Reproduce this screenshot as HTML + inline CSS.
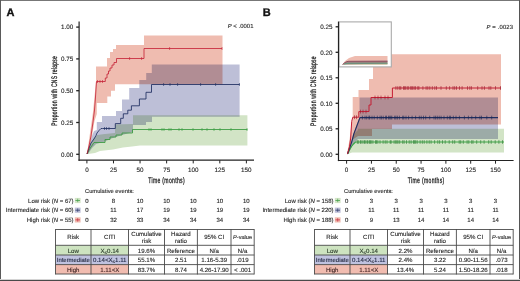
<!DOCTYPE html>
<html><head><meta charset="utf-8"><style>
html,body{margin:0;padding:0;background:#fff;width:520px;height:281px;overflow:hidden}
svg{display:block}
text{font-family:"Liberation Sans",sans-serif;text-rendering:geometricPrecision}
</style></head><body>
<svg width="520" height="281" viewBox="0 0 520 281">
<rect x="0" y="0" width="520" height="281" fill="#fff"/>

<g style="isolation:isolate"><polygon points="87.00,154.00 93.00,112.00 96.00,81.00 96.00,66.50 107.00,66.50 107.00,58.00 110.00,58.00 110.00,52.00 113.00,52.00 113.00,49.00 116.00,49.00 116.00,45.00 144.00,45.00 144.00,35.60 222.50,35.60 222.50,84.20 115.00,84.20 115.00,90.80 111.00,90.80 111.00,96.60 107.30,96.60 107.30,103.00 96.80,103.00 96.80,114.00 94.50,121.00 92.00,136.00 88.00,154.00" fill="#efbcb0" style="mix-blend-mode:multiply"/><polygon points="87.00,154.00 90.00,144.00 92.00,136.00 94.00,131.00 96.80,130.00 96.80,122.00 102.00,122.00 102.00,116.00 116.00,116.00 116.00,111.00 122.00,111.00 122.00,99.40 129.20,99.40 129.20,88.00 139.30,88.00 139.30,80.00 146.20,80.00 146.20,73.10 151.80,73.10 151.80,64.40 239.60,64.40 239.60,116.80 152.00,116.80 152.00,122.00 146.00,122.00 146.00,125.00 133.00,125.00 133.00,132.00 122.00,135.00 116.00,137.00 110.00,139.00 105.00,141.50 96.00,144.00 92.00,148.00 88.00,154.00" fill="#bdbfd7" style="mix-blend-mode:multiply"/><polygon points="87.00,154.00 90.00,145.00 93.00,139.00 97.00,135.00 105.00,134.00 115.00,133.00 115.00,124.50 133.00,124.00 133.00,115.20 247.40,115.20 247.40,145.40 140.00,145.40 132.00,146.50 123.00,147.50 113.00,149.50 100.00,151.00 95.00,153.00 88.00,154.00" fill="#d2e4c6" style="mix-blend-mode:multiply"/></g><polyline points="87.00,154.00 89.00,150.00 91.00,147.00 94.00,142.50 105.00,142.50 105.00,139.50 110.00,139.50 110.00,137.00 116.00,137.00 116.00,135.00 122.00,135.00 122.00,133.00 132.50,133.00 132.50,129.50 247.40,129.50" fill="none" stroke="#379a3e" stroke-width="0.85" stroke-linejoin="miter" stroke-miterlimit="2" /><polyline points="87.00,154.00 89.00,148.00 91.00,143.00 94.00,139.00 96.00,135.50 97.00,133.00 99.00,130.50 101.00,128.50 102.50,128.50 115.30,128.50 115.30,123.60 120.70,123.60 120.70,118.30 123.30,118.30 123.30,113.80 127.80,113.80 127.80,110.20 131.40,110.20 131.40,105.80 139.40,105.80 139.40,99.00 146.00,99.00 146.00,92.30 151.50,92.30 151.50,84.50 239.60,84.50" fill="none" stroke="#1e2d60" stroke-width="0.85" stroke-linejoin="miter" stroke-miterlimit="2" /><polyline points="87.00,154.00 89.00,146.00 91.00,136.00 93.00,122.00 94.50,110.00 95.30,100.00 96.50,81.50 105.30,81.50 105.30,78.00 107.00,78.00 107.00,74.00 108.50,74.00 108.50,71.00 110.00,71.00 110.00,68.00 112.00,68.00 112.00,65.00 114.00,65.00 114.00,62.50 116.50,62.50 116.50,58.50 144.00,58.50 144.00,48.50 222.00,48.50" fill="none" stroke="#c41e34" stroke-width="0.8" stroke-linejoin="miter" stroke-miterlimit="2" /><line x1="149" y1="128.0" x2="149" y2="131.0" stroke="#379a3e" stroke-width="0.6"/><line x1="151" y1="128.0" x2="151" y2="131.0" stroke="#379a3e" stroke-width="0.6"/><line x1="162" y1="128.0" x2="162" y2="131.0" stroke="#379a3e" stroke-width="0.6"/><line x1="164" y1="128.0" x2="164" y2="131.0" stroke="#379a3e" stroke-width="0.6"/><line x1="169" y1="128.0" x2="169" y2="131.0" stroke="#379a3e" stroke-width="0.6"/><line x1="171" y1="128.0" x2="171" y2="131.0" stroke="#379a3e" stroke-width="0.6"/><line x1="179" y1="128.0" x2="179" y2="131.0" stroke="#379a3e" stroke-width="0.6"/><line x1="182" y1="128.0" x2="182" y2="131.0" stroke="#379a3e" stroke-width="0.6"/><line x1="193" y1="128.0" x2="193" y2="131.0" stroke="#379a3e" stroke-width="0.6"/><line x1="202" y1="128.0" x2="202" y2="131.0" stroke="#379a3e" stroke-width="0.6"/><line x1="207" y1="128.0" x2="207" y2="131.0" stroke="#379a3e" stroke-width="0.6"/><line x1="214" y1="128.0" x2="214" y2="131.0" stroke="#379a3e" stroke-width="0.6"/><line x1="220" y1="128.0" x2="220" y2="131.0" stroke="#379a3e" stroke-width="0.6"/><line x1="231" y1="128.0" x2="231" y2="131.0" stroke="#379a3e" stroke-width="0.6"/><line x1="247" y1="128.0" x2="247" y2="131.0" stroke="#379a3e" stroke-width="0.6"/><line x1="163.6" y1="83.0" x2="163.6" y2="86.0" stroke="#1e2d60" stroke-width="0.6"/><line x1="170" y1="83.0" x2="170" y2="86.0" stroke="#1e2d60" stroke-width="0.6"/><line x1="177.6" y1="83.0" x2="177.6" y2="86.0" stroke="#1e2d60" stroke-width="0.6"/><line x1="200.6" y1="83.0" x2="200.6" y2="86.0" stroke="#1e2d60" stroke-width="0.6"/><line x1="215.6" y1="83.0" x2="215.6" y2="86.0" stroke="#1e2d60" stroke-width="0.6"/><line x1="239.4" y1="83.0" x2="239.4" y2="86.0" stroke="#1e2d60" stroke-width="0.6"/><line x1="104.5" y1="127.0" x2="104.5" y2="130.0" stroke="#1e2d60" stroke-width="0.6"/><line x1="106.5" y1="127.0" x2="106.5" y2="130.0" stroke="#1e2d60" stroke-width="0.6"/><line x1="109" y1="127.0" x2="109" y2="130.0" stroke="#1e2d60" stroke-width="0.6"/><line x1="97.5" y1="80.0" x2="97.5" y2="83.0" stroke="#c41e34" stroke-width="0.6"/><line x1="100" y1="80.0" x2="100" y2="83.0" stroke="#c41e34" stroke-width="0.6"/><line x1="102.5" y1="80.0" x2="102.5" y2="83.0" stroke="#c41e34" stroke-width="0.6"/><line x1="129.6" y1="57.0" x2="129.6" y2="60.0" stroke="#c41e34" stroke-width="0.6"/><line x1="141.6" y1="57.0" x2="141.6" y2="60.0" stroke="#c41e34" stroke-width="0.6"/><line x1="169.6" y1="47.0" x2="169.6" y2="50.0" stroke="#c41e34" stroke-width="0.6"/><line x1="222" y1="47.0" x2="222" y2="50.0" stroke="#c41e34" stroke-width="0.6"/><line x1="79.1" y1="21.5" x2="79.1" y2="160.79999999999998" stroke="#222" stroke-width="1.2"/><line x1="78.5" y1="160.2" x2="254" y2="160.2" stroke="#222" stroke-width="1.2"/><line x1="76.19999999999999" y1="154.30" x2="79.1" y2="154.30" stroke="#222" stroke-width="1.3"/><text x="73.20" y="156.50" font-size="6.3" text-anchor="end" fill="#1a1a1a" stroke="#333" stroke-width="0.12" >0.00</text><line x1="76.19999999999999" y1="122.50" x2="79.1" y2="122.50" stroke="#222" stroke-width="1.3"/><text x="73.20" y="124.70" font-size="6.3" text-anchor="end" fill="#1a1a1a" stroke="#333" stroke-width="0.12" >0.25</text><line x1="76.19999999999999" y1="90.70" x2="79.1" y2="90.70" stroke="#222" stroke-width="1.3"/><text x="73.20" y="92.90" font-size="6.3" text-anchor="end" fill="#1a1a1a" stroke="#333" stroke-width="0.12" >0.50</text><line x1="76.19999999999999" y1="58.90" x2="79.1" y2="58.90" stroke="#222" stroke-width="1.3"/><text x="73.20" y="61.10" font-size="6.3" text-anchor="end" fill="#1a1a1a" stroke="#333" stroke-width="0.12" >0.75</text><line x1="76.19999999999999" y1="27.10" x2="79.1" y2="27.10" stroke="#222" stroke-width="1.3"/><text x="73.20" y="29.30" font-size="6.3" text-anchor="end" fill="#1a1a1a" stroke="#333" stroke-width="0.12" >1.00</text><line x1="86.90" y1="160.2" x2="86.90" y2="163.39999999999998" stroke="#222" stroke-width="1"/><text x="86.90" y="172.10" font-size="6.3" text-anchor="middle" fill="#1a1a1a" stroke="#333" stroke-width="0.12" >0</text><line x1="113.48" y1="160.2" x2="113.48" y2="163.39999999999998" stroke="#222" stroke-width="1"/><text x="113.48" y="172.10" font-size="6.3" text-anchor="middle" fill="#1a1a1a" stroke="#333" stroke-width="0.12" >25</text><line x1="140.06" y1="160.2" x2="140.06" y2="163.39999999999998" stroke="#222" stroke-width="1"/><text x="140.06" y="172.10" font-size="6.3" text-anchor="middle" fill="#1a1a1a" stroke="#333" stroke-width="0.12" >50</text><line x1="166.64" y1="160.2" x2="166.64" y2="163.39999999999998" stroke="#222" stroke-width="1"/><text x="166.64" y="172.10" font-size="6.3" text-anchor="middle" fill="#1a1a1a" stroke="#333" stroke-width="0.12" >75</text><line x1="193.22" y1="160.2" x2="193.22" y2="163.39999999999998" stroke="#222" stroke-width="1"/><text x="193.22" y="172.10" font-size="6.3" text-anchor="middle" fill="#1a1a1a" stroke="#333" stroke-width="0.12" >100</text><line x1="219.80" y1="160.2" x2="219.80" y2="163.39999999999998" stroke="#222" stroke-width="1"/><text x="219.80" y="172.10" font-size="6.3" text-anchor="middle" fill="#1a1a1a" stroke="#333" stroke-width="0.12" >125</text><line x1="246.38" y1="160.2" x2="246.38" y2="163.39999999999998" stroke="#222" stroke-width="1"/><text x="246.38" y="172.10" font-size="6.3" text-anchor="middle" fill="#1a1a1a" stroke="#333" stroke-width="0.12" >150</text><text transform="translate(166.6,182.6) scale(0.63,1)" font-size="8" letter-spacing="0.55" text-anchor="middle" fill="#1a1a1a" stroke="#222" stroke-width="0.3">Time (months)</text><text transform="translate(56.9,90.9) rotate(-90) scale(0.62,1)" font-size="8" letter-spacing="0.43" text-anchor="middle" fill="#1a1a1a" stroke="#222" stroke-width="0.3">Proportion with CNS relapse</text><text x="253.5" y="28.4" font-size="5.9" letter-spacing="0.05" text-anchor="end" fill="#1a1a1a" stroke="#333" stroke-width="0.12"><tspan font-style="italic">P</tspan> &lt; .0001</text><text x="6.5" y="16" font-size="11" font-weight="bold" fill="#111" stroke="#111" stroke-width="0.35">A</text>
<text x="85.00" y="193.20" font-size="5.75" text-anchor="start" fill="#1a1a1a" stroke="#333" stroke-width="0.12" >Cumulative events:</text><text x="73.60" y="202.70" font-size="6.0" text-anchor="end" fill="#1a1a1a" stroke="#333" stroke-width="0.12" >Low risk (<tspan font-style="italic">N</tspan> = 67)</text><rect x="74.8" y="197.89999999999998" width="5.8" height="5.2" fill="#d2e4c6"/><line x1="75.39999999999999" y1="200.5" x2="80.0" y2="200.5" stroke="#379a3e" stroke-width="0.7"/><line x1="77.7" y1="198.7" x2="77.7" y2="202.2" stroke="#379a3e" stroke-width="0.6"/><text x="86.90" y="202.70" font-size="6.0" text-anchor="middle" fill="#1a1a1a" stroke="#333" stroke-width="0.12" >0</text><text x="113.48" y="202.70" font-size="6.0" text-anchor="middle" fill="#1a1a1a" stroke="#333" stroke-width="0.12" >8</text><text x="140.06" y="202.70" font-size="6.0" text-anchor="middle" fill="#1a1a1a" stroke="#333" stroke-width="0.12" >10</text><text x="166.64" y="202.70" font-size="6.0" text-anchor="middle" fill="#1a1a1a" stroke="#333" stroke-width="0.12" >10</text><text x="193.22" y="202.70" font-size="6.0" text-anchor="middle" fill="#1a1a1a" stroke="#333" stroke-width="0.12" >10</text><text x="219.80" y="202.70" font-size="6.0" text-anchor="middle" fill="#1a1a1a" stroke="#333" stroke-width="0.12" >10</text><text x="246.38" y="202.70" font-size="6.0" text-anchor="middle" fill="#1a1a1a" stroke="#333" stroke-width="0.12" >10</text><text x="73.60" y="212.40" font-size="6.0" text-anchor="end" fill="#1a1a1a" stroke="#333" stroke-width="0.12" >Intermediate risk (<tspan font-style="italic">N</tspan> = 60)</text><rect x="74.8" y="207.6" width="5.8" height="5.2" fill="#bdbfd7"/><line x1="75.39999999999999" y1="210.20000000000002" x2="80.0" y2="210.20000000000002" stroke="#1e2d60" stroke-width="0.7"/><line x1="77.7" y1="208.4" x2="77.7" y2="211.9" stroke="#1e2d60" stroke-width="0.6"/><text x="86.90" y="212.40" font-size="6.0" text-anchor="middle" fill="#1a1a1a" stroke="#333" stroke-width="0.12" >0</text><text x="113.48" y="212.40" font-size="6.0" text-anchor="middle" fill="#1a1a1a" stroke="#333" stroke-width="0.12" >11</text><text x="140.06" y="212.40" font-size="6.0" text-anchor="middle" fill="#1a1a1a" stroke="#333" stroke-width="0.12" >17</text><text x="166.64" y="212.40" font-size="6.0" text-anchor="middle" fill="#1a1a1a" stroke="#333" stroke-width="0.12" >19</text><text x="193.22" y="212.40" font-size="6.0" text-anchor="middle" fill="#1a1a1a" stroke="#333" stroke-width="0.12" >19</text><text x="219.80" y="212.40" font-size="6.0" text-anchor="middle" fill="#1a1a1a" stroke="#333" stroke-width="0.12" >19</text><text x="246.38" y="212.40" font-size="6.0" text-anchor="middle" fill="#1a1a1a" stroke="#333" stroke-width="0.12" >19</text><text x="73.60" y="222.10" font-size="6.0" text-anchor="end" fill="#1a1a1a" stroke="#333" stroke-width="0.12" >High risk (<tspan font-style="italic">N</tspan> = 55)</text><rect x="74.8" y="217.29999999999998" width="5.8" height="5.2" fill="#efbcb0"/><line x1="75.39999999999999" y1="219.9" x2="80.0" y2="219.9" stroke="#c41e34" stroke-width="0.7"/><line x1="77.7" y1="218.1" x2="77.7" y2="221.6" stroke="#c41e34" stroke-width="0.6"/><text x="86.90" y="222.10" font-size="6.0" text-anchor="middle" fill="#1a1a1a" stroke="#333" stroke-width="0.12" >0</text><text x="113.48" y="222.10" font-size="6.0" text-anchor="middle" fill="#1a1a1a" stroke="#333" stroke-width="0.12" >32</text><text x="140.06" y="222.10" font-size="6.0" text-anchor="middle" fill="#1a1a1a" stroke="#333" stroke-width="0.12" >33</text><text x="166.64" y="222.10" font-size="6.0" text-anchor="middle" fill="#1a1a1a" stroke="#333" stroke-width="0.12" >34</text><text x="193.22" y="222.10" font-size="6.0" text-anchor="middle" fill="#1a1a1a" stroke="#333" stroke-width="0.12" >34</text><text x="219.80" y="222.10" font-size="6.0" text-anchor="middle" fill="#1a1a1a" stroke="#333" stroke-width="0.12" >34</text><text x="246.38" y="222.10" font-size="6.0" text-anchor="middle" fill="#1a1a1a" stroke="#333" stroke-width="0.12" >34</text><rect x="55.5" y="245.3" width="35.50" height="9.70" fill="#cde3c0"/><rect x="91" y="245.3" width="37.50" height="9.70" fill="#cde3c0"/><rect x="55.5" y="255" width="35.50" height="9.60" fill="#bfc2df"/><rect x="91" y="255" width="37.50" height="9.60" fill="#bfc2df"/><rect x="55.5" y="264.6" width="35.50" height="9.40" fill="#f1bcb0"/><rect x="91" y="264.6" width="37.50" height="9.40" fill="#f1bcb0"/><line x1="55.5" y1="229.05" x2="55.5" y2="274.45" stroke="#4a4a4a" stroke-width="0.9"/><line x1="91" y1="229.05" x2="91" y2="274.45" stroke="#4a4a4a" stroke-width="0.9"/><line x1="128.5" y1="229.05" x2="128.5" y2="274.45" stroke="#4a4a4a" stroke-width="0.9"/><line x1="164.5" y1="229.05" x2="164.5" y2="274.45" stroke="#4a4a4a" stroke-width="0.9"/><line x1="197.4" y1="229.05" x2="197.4" y2="274.45" stroke="#4a4a4a" stroke-width="0.9"/><line x1="231" y1="229.05" x2="231" y2="274.45" stroke="#4a4a4a" stroke-width="0.9"/><line x1="254.2" y1="229.05" x2="254.2" y2="274.45" stroke="#4a4a4a" stroke-width="0.9"/><line x1="55.5" y1="229.5" x2="254.2" y2="229.5" stroke="#4a4a4a" stroke-width="0.9"/><line x1="55.5" y1="245.3" x2="254.2" y2="245.3" stroke="#4a4a4a" stroke-width="0.9"/><line x1="55.5" y1="255" x2="254.2" y2="255" stroke="#4a4a4a" stroke-width="0.9"/><line x1="55.5" y1="264.6" x2="254.2" y2="264.6" stroke="#4a4a4a" stroke-width="0.9"/><line x1="55.5" y1="274" x2="254.2" y2="274" stroke="#4a4a4a" stroke-width="0.9"/><text x="73.25" y="239.40" font-size="6.1" text-anchor="middle" fill="#1a1a1a" stroke="#333" stroke-width="0.12" >Risk</text><text x="109.75" y="239.40" font-size="6.1" text-anchor="middle" fill="#1a1a1a" stroke="#333" stroke-width="0.12" >CITI</text><text x="146.50" y="235.60" font-size="6.1" text-anchor="middle" fill="#1a1a1a" stroke="#333" stroke-width="0.12" >Cumulative</text><text x="146.50" y="242.60" font-size="6.1" text-anchor="middle" fill="#1a1a1a" stroke="#333" stroke-width="0.12" >risk</text><text x="180.95" y="235.60" font-size="6.1" text-anchor="middle" fill="#1a1a1a" stroke="#333" stroke-width="0.12" >Hazard</text><text x="180.95" y="242.60" font-size="6.1" text-anchor="middle" fill="#1a1a1a" stroke="#333" stroke-width="0.12" >ratio</text><text x="214.20" y="239.40" font-size="6.1" text-anchor="middle" fill="#1a1a1a" stroke="#333" stroke-width="0.12" >95% CI</text><text x="242.60" y="239.40" font-size="5.6" text-anchor="middle" fill="#1a1a1a" stroke="#333" stroke-width="0.12" ><tspan font-style="italic">P</tspan>-value</text><text x="73.25" y="252.50" font-size="6.1" text-anchor="middle" fill="#1f3a1f" stroke="#333" stroke-width="0.12" >Low</text><text x="109.75" y="252.50" font-size="6.1" text-anchor="middle" fill="#1f3a1f" stroke="#333" stroke-width="0.12" >X<tspan font-size="4.6" dy="1.0">≤</tspan><tspan dy="-1.0">0.14</tspan></text><text x="146.50" y="252.50" font-size="6.1" text-anchor="middle" fill="#1a1a1a" stroke="#333" stroke-width="0.12" >19.6%</text><text x="180.95" y="252.50" font-size="6.1" text-anchor="middle" fill="#1a1a1a" stroke="#333" stroke-width="0.12" >Reference</text><text x="214.20" y="252.50" font-size="6.1" text-anchor="middle" fill="#1a1a1a" stroke="#333" stroke-width="0.12" >N/a</text><text x="242.60" y="252.50" font-size="6.1" text-anchor="middle" fill="#1a1a1a" stroke="#333" stroke-width="0.12" >N/a</text><text x="73.25" y="262.10" font-size="6.1" text-anchor="middle" fill="#1a2248" stroke="#333" stroke-width="0.12" ><tspan font-size="5.95">Intermediate</tspan></text><text x="109.75" y="262.10" font-size="6.1" text-anchor="middle" fill="#1a2248" stroke="#333" stroke-width="0.12" >0.14&lt;X<tspan font-size="4.6" dy="1.0">≤</tspan><tspan dy="-1.0">1.11</tspan></text><text x="146.50" y="262.10" font-size="6.1" text-anchor="middle" fill="#1a1a1a" stroke="#333" stroke-width="0.12" >55.1%</text><text x="180.95" y="262.10" font-size="6.1" text-anchor="middle" fill="#1a1a1a" stroke="#333" stroke-width="0.12" >2.51</text><text x="214.20" y="262.10" font-size="6.1" text-anchor="middle" fill="#1a1a1a" stroke="#333" stroke-width="0.12" >1.16-5.39</text><text x="242.60" y="262.10" font-size="6.1" text-anchor="middle" fill="#1a1a1a" stroke="#333" stroke-width="0.12" >.019</text><text x="73.25" y="271.70" font-size="6.1" text-anchor="middle" fill="#4a1e1e" stroke="#333" stroke-width="0.12" >High</text><text x="109.75" y="271.70" font-size="6.1" text-anchor="middle" fill="#4a1e1e" stroke="#333" stroke-width="0.12" >1.11&lt;X</text><text x="146.50" y="271.70" font-size="6.1" text-anchor="middle" fill="#1a1a1a" stroke="#333" stroke-width="0.12" >83.7%</text><text x="180.95" y="271.70" font-size="6.1" text-anchor="middle" fill="#1a1a1a" stroke="#333" stroke-width="0.12" >8.74</text><text x="214.20" y="271.70" font-size="6.1" text-anchor="middle" fill="#1a1a1a" stroke="#333" stroke-width="0.12" >4.26-17.90</text><text x="242.60" y="271.70" font-size="6.1" text-anchor="middle" fill="#1a1a1a" stroke="#333" stroke-width="0.12" >&lt; .001</text>
<g style="isolation:isolate"><polygon points="347.00,154.00 349.50,140.00 351.50,124.00 352.70,117.00 352.70,97.00 358.50,97.00 358.50,90.00 369.00,90.00 369.00,79.00 373.00,79.00 373.00,54.20 501.00,54.20 501.00,124.60 392.00,124.60 392.00,129.00 372.00,129.00 372.00,136.00 358.00,136.00 352.00,140.00 348.00,154.00" fill="#efbcb0" style="mix-blend-mode:multiply"/><polygon points="347.00,154.00 353.00,135.00 357.00,124.00 359.50,117.00 359.50,97.60 498.00,97.60 498.00,139.00 358.00,139.00 352.00,146.00 348.00,154.00" fill="#bdbfd7" style="mix-blend-mode:multiply"/><polygon points="347.00,154.00 350.00,145.00 354.00,134.00 358.00,130.00 358.00,128.70 504.00,128.70 504.00,152.60 352.00,152.60 348.00,154.00" fill="#d2e4c6" style="mix-blend-mode:multiply"/></g><polyline points="347.50,154.00 349.50,150.00 351.50,146.50 353.50,144.00 355.50,142.00 504.00,142.00" fill="none" stroke="#3aa845" stroke-width="1.2" stroke-linejoin="miter" stroke-miterlimit="2" /><polyline points="347.50,154.00 351.80,141.80 353.80,134.00 360.00,117.60 498.00,117.60" fill="none" stroke="#1e2d60" stroke-width="1.1" stroke-linejoin="miter" stroke-miterlimit="2" /><polyline points="347.50,154.00 349.50,146.50 350.70,138.00 351.70,121.30 352.80,117.20 358.80,117.20 358.80,111.60 369.00,111.50 369.00,105.00 371.00,105.00 371.00,97.50 392.40,97.50 392.40,88.00 501.00,88.00" fill="none" stroke="#c41e34" stroke-width="1.0" stroke-linejoin="miter" stroke-miterlimit="2" /><line x1="357.3" y1="140.1" x2="357.3" y2="143.9" stroke="#2a7a30" stroke-width="0.6"/><line x1="358.3" y1="140.1" x2="358.3" y2="143.9" stroke="#2a7a30" stroke-width="0.6"/><line x1="360.3" y1="140.1" x2="360.3" y2="143.9" stroke="#2a7a30" stroke-width="0.6"/><line x1="361.1" y1="140.1" x2="361.1" y2="143.9" stroke="#2a7a30" stroke-width="0.6"/><line x1="362.9" y1="140.1" x2="362.9" y2="143.9" stroke="#2a7a30" stroke-width="0.6"/><line x1="364.4" y1="140.1" x2="364.4" y2="143.9" stroke="#2a7a30" stroke-width="0.6"/><line x1="365.2" y1="140.1" x2="365.2" y2="143.9" stroke="#2a7a30" stroke-width="0.6"/><line x1="367.0" y1="140.1" x2="367.0" y2="143.9" stroke="#2a7a30" stroke-width="0.6"/><line x1="367.8" y1="140.1" x2="367.8" y2="143.9" stroke="#2a7a30" stroke-width="0.6"/><line x1="369.4" y1="140.1" x2="369.4" y2="143.9" stroke="#2a7a30" stroke-width="0.6"/><line x1="370.3" y1="140.1" x2="370.3" y2="143.9" stroke="#2a7a30" stroke-width="0.6"/><line x1="371.2" y1="140.1" x2="371.2" y2="143.9" stroke="#2a7a30" stroke-width="0.6"/><line x1="372.9" y1="140.1" x2="372.9" y2="143.9" stroke="#2a7a30" stroke-width="0.6"/><line x1="375.5" y1="140.1" x2="375.5" y2="143.9" stroke="#2a7a30" stroke-width="0.6"/><line x1="376.5" y1="140.1" x2="376.5" y2="143.9" stroke="#2a7a30" stroke-width="0.6"/><line x1="377.8" y1="140.1" x2="377.8" y2="143.9" stroke="#2a7a30" stroke-width="0.6"/><line x1="380.0" y1="140.1" x2="380.0" y2="143.9" stroke="#2a7a30" stroke-width="0.6"/><line x1="383.1" y1="140.1" x2="383.1" y2="143.9" stroke="#2a7a30" stroke-width="0.6"/><line x1="385.2" y1="140.1" x2="385.2" y2="143.9" stroke="#2a7a30" stroke-width="0.6"/><line x1="387.0" y1="140.1" x2="387.0" y2="143.9" stroke="#2a7a30" stroke-width="0.6"/><line x1="390.2" y1="140.1" x2="390.2" y2="143.9" stroke="#2a7a30" stroke-width="0.6"/><line x1="391.1" y1="140.1" x2="391.1" y2="143.9" stroke="#2a7a30" stroke-width="0.6"/><line x1="394.1" y1="140.1" x2="394.1" y2="143.9" stroke="#2a7a30" stroke-width="0.6"/><line x1="395.7" y1="140.1" x2="395.7" y2="143.9" stroke="#2a7a30" stroke-width="0.6"/><line x1="396.9" y1="140.1" x2="396.9" y2="143.9" stroke="#2a7a30" stroke-width="0.6"/><line x1="398.0" y1="140.1" x2="398.0" y2="143.9" stroke="#2a7a30" stroke-width="0.6"/><line x1="399.7" y1="140.1" x2="399.7" y2="143.9" stroke="#2a7a30" stroke-width="0.6"/><line x1="402.7" y1="140.1" x2="402.7" y2="143.9" stroke="#2a7a30" stroke-width="0.6"/><line x1="404.1" y1="140.1" x2="404.1" y2="143.9" stroke="#2a7a30" stroke-width="0.6"/><line x1="406.5" y1="140.1" x2="406.5" y2="143.9" stroke="#2a7a30" stroke-width="0.6"/><line x1="409.2" y1="140.1" x2="409.2" y2="143.9" stroke="#2a7a30" stroke-width="0.6"/><line x1="411.1" y1="140.1" x2="411.1" y2="143.9" stroke="#2a7a30" stroke-width="0.6"/><line x1="413.5" y1="140.1" x2="413.5" y2="143.9" stroke="#2a7a30" stroke-width="0.6"/><line x1="414.6" y1="140.1" x2="414.6" y2="143.9" stroke="#2a7a30" stroke-width="0.6"/><line x1="415.7" y1="140.1" x2="415.7" y2="143.9" stroke="#2a7a30" stroke-width="0.6"/><line x1="417.2" y1="140.1" x2="417.2" y2="143.9" stroke="#2a7a30" stroke-width="0.6"/><line x1="420.1" y1="140.1" x2="420.1" y2="143.9" stroke="#2a7a30" stroke-width="0.6"/><line x1="422.3" y1="140.1" x2="422.3" y2="143.9" stroke="#2a7a30" stroke-width="0.6"/><line x1="424.2" y1="140.1" x2="424.2" y2="143.9" stroke="#2a7a30" stroke-width="0.6"/><line x1="426.9" y1="140.1" x2="426.9" y2="143.9" stroke="#2a7a30" stroke-width="0.6"/><line x1="429.2" y1="140.1" x2="429.2" y2="143.9" stroke="#2a7a30" stroke-width="0.6"/><line x1="431.1" y1="140.1" x2="431.1" y2="143.9" stroke="#2a7a30" stroke-width="0.6"/><line x1="434.6" y1="140.1" x2="434.6" y2="143.9" stroke="#2a7a30" stroke-width="0.6"/><line x1="437.8" y1="140.1" x2="437.8" y2="143.9" stroke="#2a7a30" stroke-width="0.6"/><line x1="439.6" y1="140.1" x2="439.6" y2="143.9" stroke="#2a7a30" stroke-width="0.6"/><line x1="442.5" y1="140.1" x2="442.5" y2="143.9" stroke="#2a7a30" stroke-width="0.6"/><line x1="445.2" y1="140.1" x2="445.2" y2="143.9" stroke="#2a7a30" stroke-width="0.6"/><line x1="449.2" y1="140.1" x2="449.2" y2="143.9" stroke="#2a7a30" stroke-width="0.6"/><line x1="452.7" y1="140.1" x2="452.7" y2="143.9" stroke="#2a7a30" stroke-width="0.6"/><line x1="454.7" y1="140.1" x2="454.7" y2="143.9" stroke="#2a7a30" stroke-width="0.6"/><line x1="459.2" y1="140.1" x2="459.2" y2="143.9" stroke="#2a7a30" stroke-width="0.6"/><line x1="460.7" y1="140.1" x2="460.7" y2="143.9" stroke="#2a7a30" stroke-width="0.6"/><line x1="463.3" y1="140.1" x2="463.3" y2="143.9" stroke="#2a7a30" stroke-width="0.6"/><line x1="467.1" y1="140.1" x2="467.1" y2="143.9" stroke="#2a7a30" stroke-width="0.6"/><line x1="468.8" y1="140.1" x2="468.8" y2="143.9" stroke="#2a7a30" stroke-width="0.6"/><line x1="471.7" y1="140.1" x2="471.7" y2="143.9" stroke="#2a7a30" stroke-width="0.6"/><line x1="473.0" y1="140.1" x2="473.0" y2="143.9" stroke="#2a7a30" stroke-width="0.6"/><line x1="476.7" y1="140.1" x2="476.7" y2="143.9" stroke="#2a7a30" stroke-width="0.6"/><line x1="480.7" y1="140.1" x2="480.7" y2="143.9" stroke="#2a7a30" stroke-width="0.6"/><line x1="484.1" y1="140.1" x2="484.1" y2="143.9" stroke="#2a7a30" stroke-width="0.6"/><line x1="488.7" y1="140.1" x2="488.7" y2="143.9" stroke="#2a7a30" stroke-width="0.6"/><line x1="491.2" y1="140.1" x2="491.2" y2="143.9" stroke="#2a7a30" stroke-width="0.6"/><line x1="495.2" y1="140.1" x2="495.2" y2="143.9" stroke="#2a7a30" stroke-width="0.6"/><line x1="498.9" y1="140.1" x2="498.9" y2="143.9" stroke="#2a7a30" stroke-width="0.6"/><line x1="502.5" y1="140.1" x2="502.5" y2="143.9" stroke="#2a7a30" stroke-width="0.6"/><line x1="362.4" y1="115.69999999999999" x2="362.4" y2="119.5" stroke="#1a2550" stroke-width="0.6"/><line x1="365.0" y1="115.69999999999999" x2="365.0" y2="119.5" stroke="#1a2550" stroke-width="0.6"/><line x1="366.7" y1="115.69999999999999" x2="366.7" y2="119.5" stroke="#1a2550" stroke-width="0.6"/><line x1="368.9" y1="115.69999999999999" x2="368.9" y2="119.5" stroke="#1a2550" stroke-width="0.6"/><line x1="369.7" y1="115.69999999999999" x2="369.7" y2="119.5" stroke="#1a2550" stroke-width="0.6"/><line x1="372.0" y1="115.69999999999999" x2="372.0" y2="119.5" stroke="#1a2550" stroke-width="0.6"/><line x1="374.2" y1="115.69999999999999" x2="374.2" y2="119.5" stroke="#1a2550" stroke-width="0.6"/><line x1="377.3" y1="115.69999999999999" x2="377.3" y2="119.5" stroke="#1a2550" stroke-width="0.6"/><line x1="380.0" y1="115.69999999999999" x2="380.0" y2="119.5" stroke="#1a2550" stroke-width="0.6"/><line x1="381.4" y1="115.69999999999999" x2="381.4" y2="119.5" stroke="#1a2550" stroke-width="0.6"/><line x1="383.2" y1="115.69999999999999" x2="383.2" y2="119.5" stroke="#1a2550" stroke-width="0.6"/><line x1="385.6" y1="115.69999999999999" x2="385.6" y2="119.5" stroke="#1a2550" stroke-width="0.6"/><line x1="386.5" y1="115.69999999999999" x2="386.5" y2="119.5" stroke="#1a2550" stroke-width="0.6"/><line x1="388.5" y1="115.69999999999999" x2="388.5" y2="119.5" stroke="#1a2550" stroke-width="0.6"/><line x1="389.7" y1="115.69999999999999" x2="389.7" y2="119.5" stroke="#1a2550" stroke-width="0.6"/><line x1="390.8" y1="115.69999999999999" x2="390.8" y2="119.5" stroke="#1a2550" stroke-width="0.6"/><line x1="391.8" y1="115.69999999999999" x2="391.8" y2="119.5" stroke="#1a2550" stroke-width="0.6"/><line x1="394.7" y1="115.69999999999999" x2="394.7" y2="119.5" stroke="#1a2550" stroke-width="0.6"/><line x1="395.9" y1="115.69999999999999" x2="395.9" y2="119.5" stroke="#1a2550" stroke-width="0.6"/><line x1="397.4" y1="115.69999999999999" x2="397.4" y2="119.5" stroke="#1a2550" stroke-width="0.6"/><line x1="399.4" y1="115.69999999999999" x2="399.4" y2="119.5" stroke="#1a2550" stroke-width="0.6"/><line x1="402.7" y1="115.69999999999999" x2="402.7" y2="119.5" stroke="#1a2550" stroke-width="0.6"/><line x1="403.8" y1="115.69999999999999" x2="403.8" y2="119.5" stroke="#1a2550" stroke-width="0.6"/><line x1="406.0" y1="115.69999999999999" x2="406.0" y2="119.5" stroke="#1a2550" stroke-width="0.6"/><line x1="408.6" y1="115.69999999999999" x2="408.6" y2="119.5" stroke="#1a2550" stroke-width="0.6"/><line x1="412.1" y1="115.69999999999999" x2="412.1" y2="119.5" stroke="#1a2550" stroke-width="0.6"/><line x1="415.6" y1="115.69999999999999" x2="415.6" y2="119.5" stroke="#1a2550" stroke-width="0.6"/><line x1="419.3" y1="115.69999999999999" x2="419.3" y2="119.5" stroke="#1a2550" stroke-width="0.6"/><line x1="421.2" y1="115.69999999999999" x2="421.2" y2="119.5" stroke="#1a2550" stroke-width="0.6"/><line x1="423.5" y1="115.69999999999999" x2="423.5" y2="119.5" stroke="#1a2550" stroke-width="0.6"/><line x1="425.7" y1="115.69999999999999" x2="425.7" y2="119.5" stroke="#1a2550" stroke-width="0.6"/><line x1="429.7" y1="115.69999999999999" x2="429.7" y2="119.5" stroke="#1a2550" stroke-width="0.6"/><line x1="434.0" y1="115.69999999999999" x2="434.0" y2="119.5" stroke="#1a2550" stroke-width="0.6"/><line x1="435.6" y1="115.69999999999999" x2="435.6" y2="119.5" stroke="#1a2550" stroke-width="0.6"/><line x1="437.3" y1="115.69999999999999" x2="437.3" y2="119.5" stroke="#1a2550" stroke-width="0.6"/><line x1="439.2" y1="115.69999999999999" x2="439.2" y2="119.5" stroke="#1a2550" stroke-width="0.6"/><line x1="441.1" y1="115.69999999999999" x2="441.1" y2="119.5" stroke="#1a2550" stroke-width="0.6"/><line x1="444.0" y1="115.69999999999999" x2="444.0" y2="119.5" stroke="#1a2550" stroke-width="0.6"/><line x1="447.3" y1="115.69999999999999" x2="447.3" y2="119.5" stroke="#1a2550" stroke-width="0.6"/><line x1="449.4" y1="115.69999999999999" x2="449.4" y2="119.5" stroke="#1a2550" stroke-width="0.6"/><line x1="450.6" y1="115.69999999999999" x2="450.6" y2="119.5" stroke="#1a2550" stroke-width="0.6"/><line x1="453.3" y1="115.69999999999999" x2="453.3" y2="119.5" stroke="#1a2550" stroke-width="0.6"/><line x1="456.0" y1="115.69999999999999" x2="456.0" y2="119.5" stroke="#1a2550" stroke-width="0.6"/><line x1="459.4" y1="115.69999999999999" x2="459.4" y2="119.5" stroke="#1a2550" stroke-width="0.6"/><line x1="464.4" y1="115.69999999999999" x2="464.4" y2="119.5" stroke="#1a2550" stroke-width="0.6"/><line x1="468.4" y1="115.69999999999999" x2="468.4" y2="119.5" stroke="#1a2550" stroke-width="0.6"/><line x1="471.8" y1="115.69999999999999" x2="471.8" y2="119.5" stroke="#1a2550" stroke-width="0.6"/><line x1="475.7" y1="115.69999999999999" x2="475.7" y2="119.5" stroke="#1a2550" stroke-width="0.6"/><line x1="479.9" y1="115.69999999999999" x2="479.9" y2="119.5" stroke="#1a2550" stroke-width="0.6"/><line x1="481.5" y1="115.69999999999999" x2="481.5" y2="119.5" stroke="#1a2550" stroke-width="0.6"/><line x1="486.8" y1="115.69999999999999" x2="486.8" y2="119.5" stroke="#1a2550" stroke-width="0.6"/><line x1="491.7" y1="115.69999999999999" x2="491.7" y2="119.5" stroke="#1a2550" stroke-width="0.6"/><line x1="395.9" y1="86.1" x2="395.9" y2="89.9" stroke="#9a1428" stroke-width="0.6"/><line x1="397.8" y1="86.1" x2="397.8" y2="89.9" stroke="#9a1428" stroke-width="0.6"/><line x1="399.7" y1="86.1" x2="399.7" y2="89.9" stroke="#9a1428" stroke-width="0.6"/><line x1="400.8" y1="86.1" x2="400.8" y2="89.9" stroke="#9a1428" stroke-width="0.6"/><line x1="403.5" y1="86.1" x2="403.5" y2="89.9" stroke="#9a1428" stroke-width="0.6"/><line x1="404.6" y1="86.1" x2="404.6" y2="89.9" stroke="#9a1428" stroke-width="0.6"/><line x1="405.7" y1="86.1" x2="405.7" y2="89.9" stroke="#9a1428" stroke-width="0.6"/><line x1="407.3" y1="86.1" x2="407.3" y2="89.9" stroke="#9a1428" stroke-width="0.6"/><line x1="408.7" y1="86.1" x2="408.7" y2="89.9" stroke="#9a1428" stroke-width="0.6"/><line x1="410.7" y1="86.1" x2="410.7" y2="89.9" stroke="#9a1428" stroke-width="0.6"/><line x1="411.8" y1="86.1" x2="411.8" y2="89.9" stroke="#9a1428" stroke-width="0.6"/><line x1="412.8" y1="86.1" x2="412.8" y2="89.9" stroke="#9a1428" stroke-width="0.6"/><line x1="414.2" y1="86.1" x2="414.2" y2="89.9" stroke="#9a1428" stroke-width="0.6"/><line x1="415.6" y1="86.1" x2="415.6" y2="89.9" stroke="#9a1428" stroke-width="0.6"/><line x1="417.8" y1="86.1" x2="417.8" y2="89.9" stroke="#9a1428" stroke-width="0.6"/><line x1="418.9" y1="86.1" x2="418.9" y2="89.9" stroke="#9a1428" stroke-width="0.6"/><line x1="422.9" y1="86.1" x2="422.9" y2="89.9" stroke="#9a1428" stroke-width="0.6"/><line x1="426.1" y1="86.1" x2="426.1" y2="89.9" stroke="#9a1428" stroke-width="0.6"/><line x1="427.8" y1="86.1" x2="427.8" y2="89.9" stroke="#9a1428" stroke-width="0.6"/><line x1="429.8" y1="86.1" x2="429.8" y2="89.9" stroke="#9a1428" stroke-width="0.6"/><line x1="432.3" y1="86.1" x2="432.3" y2="89.9" stroke="#9a1428" stroke-width="0.6"/><line x1="434.8" y1="86.1" x2="434.8" y2="89.9" stroke="#9a1428" stroke-width="0.6"/><line x1="436.5" y1="86.1" x2="436.5" y2="89.9" stroke="#9a1428" stroke-width="0.6"/><line x1="441.0" y1="86.1" x2="441.0" y2="89.9" stroke="#9a1428" stroke-width="0.6"/><line x1="446.3" y1="86.1" x2="446.3" y2="89.9" stroke="#9a1428" stroke-width="0.6"/><line x1="449.6" y1="86.1" x2="449.6" y2="89.9" stroke="#9a1428" stroke-width="0.6"/><line x1="453.0" y1="86.1" x2="453.0" y2="89.9" stroke="#9a1428" stroke-width="0.6"/><line x1="454.7" y1="86.1" x2="454.7" y2="89.9" stroke="#9a1428" stroke-width="0.6"/><line x1="456.5" y1="86.1" x2="456.5" y2="89.9" stroke="#9a1428" stroke-width="0.6"/><line x1="459.5" y1="86.1" x2="459.5" y2="89.9" stroke="#9a1428" stroke-width="0.6"/><line x1="462.1" y1="86.1" x2="462.1" y2="89.9" stroke="#9a1428" stroke-width="0.6"/><line x1="467.5" y1="86.1" x2="467.5" y2="89.9" stroke="#9a1428" stroke-width="0.6"/><line x1="469.8" y1="86.1" x2="469.8" y2="89.9" stroke="#9a1428" stroke-width="0.6"/><line x1="471.4" y1="86.1" x2="471.4" y2="89.9" stroke="#9a1428" stroke-width="0.6"/><line x1="477.7" y1="86.1" x2="477.7" y2="89.9" stroke="#9a1428" stroke-width="0.6"/><line x1="482.0" y1="86.1" x2="482.0" y2="89.9" stroke="#9a1428" stroke-width="0.6"/><line x1="484.4" y1="86.1" x2="484.4" y2="89.9" stroke="#9a1428" stroke-width="0.6"/><line x1="489.0" y1="86.1" x2="489.0" y2="89.9" stroke="#9a1428" stroke-width="0.6"/><line x1="490.8" y1="86.1" x2="490.8" y2="89.9" stroke="#9a1428" stroke-width="0.6"/><line x1="495.5" y1="86.1" x2="495.5" y2="89.9" stroke="#9a1428" stroke-width="0.6"/><line x1="360.5" y1="109.69999999999999" x2="360.5" y2="113.5" stroke="#9a1428" stroke-width="0.6"/><line x1="363" y1="109.69999999999999" x2="363" y2="113.5" stroke="#9a1428" stroke-width="0.6"/><line x1="366" y1="109.69999999999999" x2="366" y2="113.5" stroke="#9a1428" stroke-width="0.6"/><line x1="375" y1="95.6" x2="375" y2="99.4" stroke="#9a1428" stroke-width="0.6"/><line x1="378" y1="95.6" x2="378" y2="99.4" stroke="#9a1428" stroke-width="0.6"/><line x1="381" y1="95.6" x2="381" y2="99.4" stroke="#9a1428" stroke-width="0.6"/><line x1="385" y1="95.6" x2="385" y2="99.4" stroke="#9a1428" stroke-width="0.6"/><line x1="388" y1="95.6" x2="388" y2="99.4" stroke="#9a1428" stroke-width="0.6"/><line x1="354.5" y1="115.3" x2="354.5" y2="119.10000000000001" stroke="#9a1428" stroke-width="0.6"/><line x1="356.5" y1="115.3" x2="356.5" y2="119.10000000000001" stroke="#9a1428" stroke-width="0.6"/><line x1="500.5" y1="86.1" x2="500.5" y2="89.9" stroke="#9a1428" stroke-width="0.6"/><rect x="338.9" y="21.9" width="52.4" height="45" fill="#fff" stroke="#aaa" stroke-width="1.1"/><g style="isolation:isolate"><polygon points="342.50,64.50 345.00,61.00 349.00,58.00 355.00,56.00 387.50,56.00 387.50,64.50 342.50,64.50" fill="#efbcb0" style="mix-blend-mode:multiply"/><polygon points="342.50,64.50 347.00,61.00 387.50,60.50 387.50,63.50 342.50,64.50" fill="#bdbfd7" style="mix-blend-mode:multiply"/><polygon points="342.50,64.50 347.00,62.50 387.50,62.30 387.50,64.70 342.50,64.70" fill="#d2e4c6" style="mix-blend-mode:multiply"/></g><polyline points="342.50,64.50 345.00,62.50 348.00,61.30 387.50,61.30" fill="none" stroke="#8a4a58" stroke-width="0.9" stroke-linejoin="miter" stroke-miterlimit="2" /><polyline points="344.00,64.00 348.00,63.30 387.50,63.30" fill="none" stroke="#5a9a82" stroke-width="0.8" stroke-linejoin="miter" stroke-miterlimit="2" /><line x1="338.5" y1="21.6" x2="338.5" y2="161.1" stroke="#222" stroke-width="1.2"/><line x1="337.9" y1="160.5" x2="513.6" y2="160.5" stroke="#222" stroke-width="1.2"/><line x1="335.6" y1="154.30" x2="338.5" y2="154.30" stroke="#222" stroke-width="1.3"/><text x="332.60" y="156.50" font-size="6.3" text-anchor="end" fill="#1a1a1a" stroke="#333" stroke-width="0.12" >0.00</text><line x1="335.6" y1="128.80" x2="338.5" y2="128.80" stroke="#222" stroke-width="1.3"/><text x="332.60" y="131.00" font-size="6.3" text-anchor="end" fill="#1a1a1a" stroke="#333" stroke-width="0.12" >0.05</text><line x1="335.6" y1="103.30" x2="338.5" y2="103.30" stroke="#222" stroke-width="1.3"/><text x="332.60" y="105.50" font-size="6.3" text-anchor="end" fill="#1a1a1a" stroke="#333" stroke-width="0.12" >0.10</text><line x1="335.6" y1="77.80" x2="338.5" y2="77.80" stroke="#222" stroke-width="1.3"/><text x="332.60" y="80.00" font-size="6.3" text-anchor="end" fill="#1a1a1a" stroke="#333" stroke-width="0.12" >0.15</text><line x1="335.6" y1="52.30" x2="338.5" y2="52.30" stroke="#222" stroke-width="1.3"/><text x="332.60" y="54.50" font-size="6.3" text-anchor="end" fill="#1a1a1a" stroke="#333" stroke-width="0.12" >0.20</text><line x1="335.6" y1="26.80" x2="338.5" y2="26.80" stroke="#222" stroke-width="1.3"/><text x="332.60" y="29.00" font-size="6.3" text-anchor="end" fill="#1a1a1a" stroke="#333" stroke-width="0.12" >0.25</text><line x1="346.60" y1="160.5" x2="346.60" y2="163.7" stroke="#222" stroke-width="1"/><text x="346.60" y="172.40" font-size="6.3" text-anchor="middle" fill="#1a1a1a" stroke="#333" stroke-width="0.12" >0</text><line x1="371.42" y1="160.5" x2="371.42" y2="163.7" stroke="#222" stroke-width="1"/><text x="371.42" y="172.40" font-size="6.3" text-anchor="middle" fill="#1a1a1a" stroke="#333" stroke-width="0.12" >25</text><line x1="396.24" y1="160.5" x2="396.24" y2="163.7" stroke="#222" stroke-width="1"/><text x="396.24" y="172.40" font-size="6.3" text-anchor="middle" fill="#1a1a1a" stroke="#333" stroke-width="0.12" >50</text><line x1="421.06" y1="160.5" x2="421.06" y2="163.7" stroke="#222" stroke-width="1"/><text x="421.06" y="172.40" font-size="6.3" text-anchor="middle" fill="#1a1a1a" stroke="#333" stroke-width="0.12" >75</text><line x1="445.88" y1="160.5" x2="445.88" y2="163.7" stroke="#222" stroke-width="1"/><text x="445.88" y="172.40" font-size="6.3" text-anchor="middle" fill="#1a1a1a" stroke="#333" stroke-width="0.12" >100</text><line x1="470.70" y1="160.5" x2="470.70" y2="163.7" stroke="#222" stroke-width="1"/><text x="470.70" y="172.40" font-size="6.3" text-anchor="middle" fill="#1a1a1a" stroke="#333" stroke-width="0.12" >125</text><line x1="495.52" y1="160.5" x2="495.52" y2="163.7" stroke="#222" stroke-width="1"/><text x="495.52" y="172.40" font-size="6.3" text-anchor="middle" fill="#1a1a1a" stroke="#333" stroke-width="0.12" >150</text><text transform="translate(426.2,182.8) scale(0.63,1)" font-size="8" letter-spacing="0.55" text-anchor="middle" fill="#1a1a1a" stroke="#222" stroke-width="0.3">Time (months)</text><text transform="translate(316.3,91) rotate(-90) scale(0.62,1)" font-size="8" letter-spacing="0.43" text-anchor="middle" fill="#1a1a1a" stroke="#222" stroke-width="0.3">Proportion with CNS relapse</text><text x="513.2" y="29.3" font-size="5.9" letter-spacing="0.15" text-anchor="end" fill="#1a1a1a" stroke="#333" stroke-width="0.12"><tspan font-style="italic">P</tspan> = .0023</text><text x="262.8" y="16" font-size="11" font-weight="bold" fill="#111" stroke="#111" stroke-width="0.35">B</text>
<text x="344.00" y="193.20" font-size="5.75" text-anchor="start" fill="#1a1a1a" stroke="#333" stroke-width="0.12" >Cumulative events:</text><text x="333.60" y="202.70" font-size="6.0" text-anchor="end" fill="#1a1a1a" stroke="#333" stroke-width="0.12" >Low risk (<tspan font-style="italic">N</tspan> = 158)</text><rect x="334.8" y="197.89999999999998" width="5.8" height="5.2" fill="#d2e4c6"/><line x1="335.40000000000003" y1="200.5" x2="340.0" y2="200.5" stroke="#379a3e" stroke-width="0.7"/><line x1="337.7" y1="198.7" x2="337.7" y2="202.2" stroke="#379a3e" stroke-width="0.6"/><text x="346.60" y="202.70" font-size="6.0" text-anchor="middle" fill="#1a1a1a" stroke="#333" stroke-width="0.12" >0</text><text x="371.42" y="202.70" font-size="6.0" text-anchor="middle" fill="#1a1a1a" stroke="#333" stroke-width="0.12" >3</text><text x="396.24" y="202.70" font-size="6.0" text-anchor="middle" fill="#1a1a1a" stroke="#333" stroke-width="0.12" >3</text><text x="421.06" y="202.70" font-size="6.0" text-anchor="middle" fill="#1a1a1a" stroke="#333" stroke-width="0.12" >3</text><text x="445.88" y="202.70" font-size="6.0" text-anchor="middle" fill="#1a1a1a" stroke="#333" stroke-width="0.12" >3</text><text x="470.70" y="202.70" font-size="6.0" text-anchor="middle" fill="#1a1a1a" stroke="#333" stroke-width="0.12" >3</text><text x="495.52" y="202.70" font-size="6.0" text-anchor="middle" fill="#1a1a1a" stroke="#333" stroke-width="0.12" >3</text><text x="333.60" y="212.40" font-size="6.0" text-anchor="end" fill="#1a1a1a" stroke="#333" stroke-width="0.12" >Intermediate risk (<tspan font-style="italic">N</tspan> = 220)</text><rect x="334.8" y="207.6" width="5.8" height="5.2" fill="#bdbfd7"/><line x1="335.40000000000003" y1="210.20000000000002" x2="340.0" y2="210.20000000000002" stroke="#1e2d60" stroke-width="0.7"/><line x1="337.7" y1="208.4" x2="337.7" y2="211.9" stroke="#1e2d60" stroke-width="0.6"/><text x="346.60" y="212.40" font-size="6.0" text-anchor="middle" fill="#1a1a1a" stroke="#333" stroke-width="0.12" >0</text><text x="371.42" y="212.40" font-size="6.0" text-anchor="middle" fill="#1a1a1a" stroke="#333" stroke-width="0.12" >11</text><text x="396.24" y="212.40" font-size="6.0" text-anchor="middle" fill="#1a1a1a" stroke="#333" stroke-width="0.12" >11</text><text x="421.06" y="212.40" font-size="6.0" text-anchor="middle" fill="#1a1a1a" stroke="#333" stroke-width="0.12" >11</text><text x="445.88" y="212.40" font-size="6.0" text-anchor="middle" fill="#1a1a1a" stroke="#333" stroke-width="0.12" >11</text><text x="470.70" y="212.40" font-size="6.0" text-anchor="middle" fill="#1a1a1a" stroke="#333" stroke-width="0.12" >11</text><text x="495.52" y="212.40" font-size="6.0" text-anchor="middle" fill="#1a1a1a" stroke="#333" stroke-width="0.12" >11</text><text x="333.60" y="222.10" font-size="6.0" text-anchor="end" fill="#1a1a1a" stroke="#333" stroke-width="0.12" >High risk (<tspan font-style="italic">N</tspan> = 188)</text><rect x="334.8" y="217.29999999999998" width="5.8" height="5.2" fill="#efbcb0"/><line x1="335.40000000000003" y1="219.9" x2="340.0" y2="219.9" stroke="#c41e34" stroke-width="0.7"/><line x1="337.7" y1="218.1" x2="337.7" y2="221.6" stroke="#c41e34" stroke-width="0.6"/><text x="346.60" y="222.10" font-size="6.0" text-anchor="middle" fill="#1a1a1a" stroke="#333" stroke-width="0.12" >0</text><text x="371.42" y="222.10" font-size="6.0" text-anchor="middle" fill="#1a1a1a" stroke="#333" stroke-width="0.12" >9</text><text x="396.24" y="222.10" font-size="6.0" text-anchor="middle" fill="#1a1a1a" stroke="#333" stroke-width="0.12" >13</text><text x="421.06" y="222.10" font-size="6.0" text-anchor="middle" fill="#1a1a1a" stroke="#333" stroke-width="0.12" >14</text><text x="445.88" y="222.10" font-size="6.0" text-anchor="middle" fill="#1a1a1a" stroke="#333" stroke-width="0.12" >14</text><text x="470.70" y="222.10" font-size="6.0" text-anchor="middle" fill="#1a1a1a" stroke="#333" stroke-width="0.12" >14</text><text x="495.52" y="222.10" font-size="6.0" text-anchor="middle" fill="#1a1a1a" stroke="#333" stroke-width="0.12" >14</text><rect x="314.5" y="245.3" width="35.50" height="9.70" fill="#cde3c0"/><rect x="350" y="245.3" width="37.50" height="9.70" fill="#cde3c0"/><rect x="314.5" y="255" width="35.50" height="9.60" fill="#bfc2df"/><rect x="350" y="255" width="37.50" height="9.60" fill="#bfc2df"/><rect x="314.5" y="264.6" width="35.50" height="9.40" fill="#f1bcb0"/><rect x="350" y="264.6" width="37.50" height="9.40" fill="#f1bcb0"/><line x1="314.5" y1="229.05" x2="314.5" y2="274.45" stroke="#4a4a4a" stroke-width="0.9"/><line x1="350" y1="229.05" x2="350" y2="274.45" stroke="#4a4a4a" stroke-width="0.9"/><line x1="387.5" y1="229.05" x2="387.5" y2="274.45" stroke="#4a4a4a" stroke-width="0.9"/><line x1="423.5" y1="229.05" x2="423.5" y2="274.45" stroke="#4a4a4a" stroke-width="0.9"/><line x1="456.4" y1="229.05" x2="456.4" y2="274.45" stroke="#4a4a4a" stroke-width="0.9"/><line x1="490" y1="229.05" x2="490" y2="274.45" stroke="#4a4a4a" stroke-width="0.9"/><line x1="513.2" y1="229.05" x2="513.2" y2="274.45" stroke="#4a4a4a" stroke-width="0.9"/><line x1="314.5" y1="229.5" x2="513.2" y2="229.5" stroke="#4a4a4a" stroke-width="0.9"/><line x1="314.5" y1="245.3" x2="513.2" y2="245.3" stroke="#4a4a4a" stroke-width="0.9"/><line x1="314.5" y1="255" x2="513.2" y2="255" stroke="#4a4a4a" stroke-width="0.9"/><line x1="314.5" y1="264.6" x2="513.2" y2="264.6" stroke="#4a4a4a" stroke-width="0.9"/><line x1="314.5" y1="274" x2="513.2" y2="274" stroke="#4a4a4a" stroke-width="0.9"/><text x="332.25" y="239.40" font-size="6.1" text-anchor="middle" fill="#1a1a1a" stroke="#333" stroke-width="0.12" >Risk</text><text x="368.75" y="239.40" font-size="6.1" text-anchor="middle" fill="#1a1a1a" stroke="#333" stroke-width="0.12" >CITI</text><text x="405.50" y="235.60" font-size="6.1" text-anchor="middle" fill="#1a1a1a" stroke="#333" stroke-width="0.12" >Cumulative</text><text x="405.50" y="242.60" font-size="6.1" text-anchor="middle" fill="#1a1a1a" stroke="#333" stroke-width="0.12" >risk</text><text x="439.95" y="235.60" font-size="6.1" text-anchor="middle" fill="#1a1a1a" stroke="#333" stroke-width="0.12" >Hazard</text><text x="439.95" y="242.60" font-size="6.1" text-anchor="middle" fill="#1a1a1a" stroke="#333" stroke-width="0.12" >ratio</text><text x="473.20" y="239.40" font-size="6.1" text-anchor="middle" fill="#1a1a1a" stroke="#333" stroke-width="0.12" >95% CI</text><text x="501.60" y="239.40" font-size="5.6" text-anchor="middle" fill="#1a1a1a" stroke="#333" stroke-width="0.12" ><tspan font-style="italic">P</tspan>-value</text><text x="332.25" y="252.50" font-size="6.1" text-anchor="middle" fill="#1f3a1f" stroke="#333" stroke-width="0.12" >Low</text><text x="368.75" y="252.50" font-size="6.1" text-anchor="middle" fill="#1f3a1f" stroke="#333" stroke-width="0.12" >X<tspan font-size="4.6" dy="1.0">≤</tspan><tspan dy="-1.0">0.14</tspan></text><text x="405.50" y="252.50" font-size="6.1" text-anchor="middle" fill="#1a1a1a" stroke="#333" stroke-width="0.12" >2.2%</text><text x="439.95" y="252.50" font-size="6.1" text-anchor="middle" fill="#1a1a1a" stroke="#333" stroke-width="0.12" >Reference</text><text x="473.20" y="252.50" font-size="6.1" text-anchor="middle" fill="#1a1a1a" stroke="#333" stroke-width="0.12" >N/a</text><text x="501.60" y="252.50" font-size="6.1" text-anchor="middle" fill="#1a1a1a" stroke="#333" stroke-width="0.12" >N/a</text><text x="332.25" y="262.10" font-size="6.1" text-anchor="middle" fill="#1a2248" stroke="#333" stroke-width="0.12" ><tspan font-size="5.95">Intermediate</tspan></text><text x="368.75" y="262.10" font-size="6.1" text-anchor="middle" fill="#1a2248" stroke="#333" stroke-width="0.12" >0.14&lt;X<tspan font-size="4.6" dy="1.0">≤</tspan><tspan dy="-1.0">1.11</tspan></text><text x="405.50" y="262.10" font-size="6.1" text-anchor="middle" fill="#1a1a1a" stroke="#333" stroke-width="0.12" >2.4%</text><text x="439.95" y="262.10" font-size="6.1" text-anchor="middle" fill="#1a1a1a" stroke="#333" stroke-width="0.12" >3.22</text><text x="473.20" y="262.10" font-size="6.1" text-anchor="middle" fill="#1a1a1a" stroke="#333" stroke-width="0.12" >0.90-11.56</text><text x="501.60" y="262.10" font-size="6.1" text-anchor="middle" fill="#1a1a1a" stroke="#333" stroke-width="0.12" >.073</text><text x="332.25" y="271.70" font-size="6.1" text-anchor="middle" fill="#4a1e1e" stroke="#333" stroke-width="0.12" >High</text><text x="368.75" y="271.70" font-size="6.1" text-anchor="middle" fill="#4a1e1e" stroke="#333" stroke-width="0.12" >1.11&lt;X</text><text x="405.50" y="271.70" font-size="6.1" text-anchor="middle" fill="#1a1a1a" stroke="#333" stroke-width="0.12" >13.4%</text><text x="439.95" y="271.70" font-size="6.1" text-anchor="middle" fill="#1a1a1a" stroke="#333" stroke-width="0.12" >5.24</text><text x="473.20" y="271.70" font-size="6.1" text-anchor="middle" fill="#1a1a1a" stroke="#333" stroke-width="0.12" >1.50-18.26</text><text x="501.60" y="271.70" font-size="6.1" text-anchor="middle" fill="#1a1a1a" stroke="#333" stroke-width="0.12" >.018</text>
<rect x="0" y="0" width="520" height="1" fill="#777"/><rect x="0" y="0" width="1" height="281" fill="#5a5a5a"/><rect x="519" y="0" width="1" height="281" fill="#555"/><rect x="0" y="279" width="520" height="1" fill="#d4d4d4"/><rect x="0" y="280" width="520" height="1" fill="#4a4a4a"/>
</svg></body></html>
